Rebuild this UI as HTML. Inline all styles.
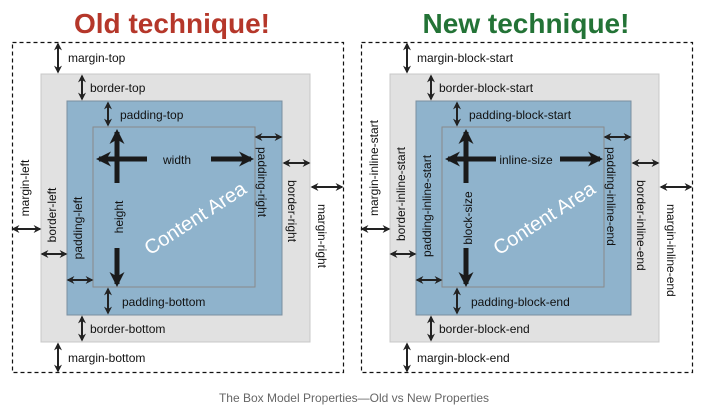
<!DOCTYPE html>
<html><head><meta charset="utf-8"><style>
html,body{margin:0;padding:0;background:#fff;}
svg{display:block;font-family:"Liberation Sans",sans-serif;}
.l{font-size:12px;fill:#111;}
.sa{stroke:#222;stroke-width:2;fill:none;marker-start:url(#h);marker-end:url(#h);}
.ba{stroke:#1a1a1a;stroke-width:5;fill:none;marker-end:url(#H);}
</style></head><body>
<svg width="708" height="414" viewBox="0 0 708 414" xmlns="http://www.w3.org/2000/svg">
<defs>
<marker id="h" viewBox="0 0 10 10" refX="8" refY="5" markerWidth="4" markerHeight="4" orient="auto-start-reverse"><path d="M0,0 L10,5 L0,10 L3,5 z" fill="#222"/></marker>
<marker id="H" viewBox="0 0 10 10" refX="8" refY="5" markerWidth="3" markerHeight="3" orient="auto"><path d="M0,0 L10,5 L0,10 L3,5 z" fill="#1a1a1a"/></marker>
<g id="box">
<rect x="12.5" y="42.5" width="331" height="330" fill="#fff" stroke="#111" stroke-width="1.2" stroke-dasharray="4,3"/>
<rect x="41" y="74" width="269" height="268" fill="#e1e1e1" stroke="#c8c8c8"/>
<rect x="67" y="101" width="215" height="214" fill="#8fb3cc" stroke="#7a8fa0"/>
<rect x="93" y="127" width="162" height="160" fill="#8fb3cc" stroke="#8a8a8a"/>
<line class="sa" x1="58" y1="44" x2="58" y2="72"/>
<line class="sa" x1="82" y1="76" x2="82" y2="99"/>
<line class="sa" x1="108" y1="103" x2="108" y2="125"/>
<line class="sa" x1="256" y1="137" x2="281" y2="137"/>
<line class="sa" x1="284" y1="163" x2="309" y2="163"/>
<line class="sa" x1="312" y1="187" x2="342" y2="187"/>
<line class="sa" x1="13" y1="229" x2="40" y2="229"/>
<line class="sa" x1="42" y1="254" x2="66" y2="254"/>
<line class="sa" x1="68" y1="280" x2="92" y2="280"/>
<line class="sa" x1="108" y1="289" x2="108" y2="313"/>
<line class="sa" x1="82" y1="317" x2="82" y2="340"/>
<line class="sa" x1="58" y1="344" x2="58" y2="371"/>
<line class="ba" x1="117" y1="183" x2="117" y2="132"/>
<line class="ba" x1="147" y1="159" x2="99" y2="159"/>
<line class="ba" x1="211" y1="159" x2="251" y2="159"/>
<line class="ba" x1="117" y1="248" x2="117" y2="284"/>
<text x="195" y="225" text-anchor="middle" font-size="20" fill="#fff" transform="rotate(-33 195 218)">Content Area</text>
</g>
</defs>
<text x="172" y="33" text-anchor="middle" font-size="28" font-weight="bold" fill="#b5372a">Old technique!</text>
<text x="526" y="33" text-anchor="middle" font-size="28" font-weight="bold" fill="#237336">New technique!</text>
<use href="#box"/>
<use href="#box" x="349"/>
<!-- left labels -->
<text class="l" x="68" y="62">margin-top</text>
<text class="l" x="90" y="92">border-top</text>
<text class="l" x="120" y="119">padding-top</text>
<text class="l" x="177" y="164" text-anchor="middle">width</text>
<text class="l" x="122" y="306">padding-bottom</text>
<text class="l" x="90" y="333">border-bottom</text>
<text class="l" x="68" y="362">margin-bottom</text>
<text class="l" transform="translate(258 147) rotate(90)">padding-right</text>
<text class="l" transform="translate(288 180) rotate(90)">border-right</text>
<text class="l" transform="translate(318 204) rotate(90)">margin-right</text>
<text class="l" text-anchor="middle" transform="translate(29 188) rotate(-90)">margin-left</text>
<text class="l" text-anchor="middle" transform="translate(56 215) rotate(-90)">border-left</text>
<text class="l" text-anchor="middle" transform="translate(82 228) rotate(-90)">padding-left</text>
<text class="l" text-anchor="middle" transform="translate(123 217) rotate(-90)">height</text>
<!-- right labels -->
<text class="l" x="417" y="62">margin-block-start</text>
<text class="l" x="439" y="92">border-block-start</text>
<text class="l" x="469" y="119">padding-block-start</text>
<text class="l" x="526" y="164" text-anchor="middle">inline-size</text>
<text class="l" x="471" y="306">padding-block-end</text>
<text class="l" x="439" y="333">border-block-end</text>
<text class="l" x="417" y="362">margin-block-end</text>
<text class="l" transform="translate(607 147) rotate(90)">padding-inline-end</text>
<text class="l" transform="translate(637 180) rotate(90)">border-inline-end</text>
<text class="l" transform="translate(667 204) rotate(90)">margin-inline-end</text>
<text class="l" text-anchor="middle" transform="translate(378 168) rotate(-90)">margin-inline-start</text>
<text class="l" text-anchor="middle" transform="translate(405 194) rotate(-90)">border-inline-start</text>
<text class="l" text-anchor="middle" transform="translate(431 206) rotate(-90)">padding-inline-start</text>
<text class="l" text-anchor="middle" transform="translate(472 218) rotate(-90)">block-size</text>
<text x="354" y="402" text-anchor="middle" font-size="12" fill="#666">The Box Model Properties—Old vs New Properties</text>
</svg>
</body></html>
